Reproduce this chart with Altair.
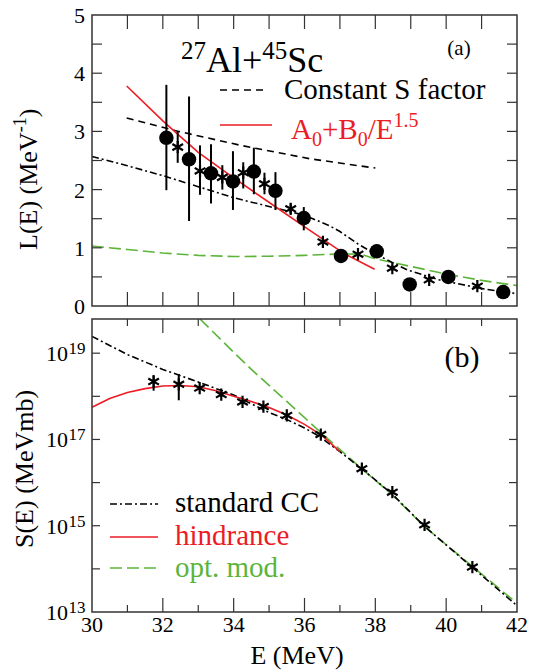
import altair as alt
import pandas as pd

FONT = "Liberation Serif"
RED = "#ec1c24"
GREEN = "#5cb53a"
BLACK = "#000000"
FRAME = "#333333"

# ---------------- panel (a): L(E) ----------------
a_circ_E = [32.10, 32.74, 33.36, 33.98, 34.57, 35.18, 35.98, 37.03, 38.04, 38.97, 40.06, 41.61]
a_circ_L = [2.89, 2.52, 2.28, 2.14, 2.31, 1.98, 1.51, 0.86, 0.94, 0.37, 0.50, 0.24]
a_circ_lo = [1.99, 1.46, 1.76, 1.65, 1.92, 1.65, 1.30, 0.80, 0.86, 0.31, 0.45, 0.21]
a_circ_hi = [3.80, 3.60, 2.78, 2.66, 2.72, 2.30, 1.70, 0.92, 1.06, 0.44, 0.56, 0.27]

a_star_E = [32.42, 33.05, 33.68, 34.27, 34.87, 35.61, 36.52, 37.51, 38.48, 39.52, 40.88]
a_star_L = [2.73, 2.32, 2.21, 2.29, 2.10, 1.67, 1.10, 0.89, 0.65, 0.45, 0.34]
a_star_lo = [2.46, 1.91, 2.00, 2.02, 1.92, 1.58, 1.02, 0.85, 0.61, 0.42, 0.32]
a_star_hi = [2.99, 2.76, 2.42, 2.47, 2.29, 1.76, 1.19, 0.94, 0.70, 0.49, 0.37]

a_constS_E = [30.98, 32.44, 34.2, 36.15, 38.0]
a_constS_L = [3.23, 3.00, 2.76, 2.53, 2.37]

a_cc_E = [30.0, 31.0, 32.0, 33.0, 34.0, 35.2, 36.0, 36.7, 37.0, 37.5, 37.95, 38.9, 39.8, 41.0, 42.0]
a_cc_L = [2.57, 2.41, 2.24, 2.05, 1.86, 1.68, 1.56, 1.38, 1.28, 1.07, 0.91, 0.62, 0.45, 0.30, 0.21]

a_fit_E = [30.98, 32.0, 32.44, 33.0, 34.0, 35.17, 36.15, 37.12, 37.98]
a_fit_L = [3.78, 3.18, 2.94, 2.64, 2.20, 1.71, 1.30, 0.90, 0.63]

a_opt_E = [30.0, 31.0, 32.0, 33.0, 34.0, 35.0, 36.0, 37.0, 37.6, 38.0, 39.0, 40.0, 41.0, 42.0]
a_opt_L = [1.03, 0.97, 0.91, 0.87, 0.85, 0.855, 0.87, 0.895, 0.89, 0.81, 0.68, 0.55, 0.44, 0.35]

a_xticks = [31, 32, 33, 34, 35, 36, 37, 38, 39, 40, 41]
a_yticks = [0.5, 1.0, 1.5, 2.0, 2.5, 3.0, 3.5, 4.0, 4.5]
a_ylabels = [0, 1, 2, 3, 4, 5]

# ---------------- panel (b): S(E) ----------------
b_star_E = [31.74, 32.45, 33.04, 33.65, 34.25, 34.84, 35.50, 36.46, 37.62, 38.48, 39.39, 40.74]
b_star_S = [2.2e18, 1.9e18, 1.55e18, 1.1e18, 7.4e17, 5.8e17, 3.6e17, 1.3e17, 2.1e16, 6.0e15, 1.05e15, 1.1e14]
b_star_lo = [1.35e18, 8.1e17, 1.4e18, 1.0e18, 6.8e17, 5.3e17, 3.3e17, 1.2e17, 1.9e16, 5.5e15, 9.6e14, 1.0e14]
b_star_hi = [3.1e18, 3.3e18, 1.7e18, 1.2e18, 8.1e17, 6.3e17, 3.9e17, 1.4e17, 2.3e16, 6.5e15, 1.15e15, 1.2e14]

b_cc_E = [30.0, 31.0, 32.0, 33.0, 34.0, 35.0, 35.5, 36.0, 36.4, 37.0, 37.63, 38.48, 39.37, 40.69, 42.0]
b_cc_S = [2.45e19, 9.3e18, 4.2e18, 2.15e18, 1.07e18, 4.2e17, 2.9e17, 1.85e17, 1.2e17, 5.2e16,
          2.05e16, 5.4e15, 1.0e15, 1.17e14, 1.4e13]

b_hind_E = [30.0, 30.5, 31.0, 31.5, 32.0, 32.5, 33.0, 33.5, 34.0, 34.5, 35.0, 35.5, 36.0, 36.5, 37.0]
b_hind_S = [5.6e17, 8.9e17, 1.23e18, 1.51e18, 1.74e18, 1.78e18, 1.66e18, 1.35e18, 1.0e18, 7.6e17,
            5.5e17, 3.7e17, 2.24e17, 1.23e17, 5.2e16]

b_opt_E = [33.05, 34.0, 34.5, 35.5, 36.46, 37.63, 38.48, 39.37, 40.69, 42.0]
b_opt_S = [6.2e19, 1.05e19, 4.2e18, 7.6e17, 1.45e17, 2.05e16, 5.2e15, 9.8e14, 1.23e14, 1.6e13]

b_xmajor = [32, 34, 36, 38, 40]
b_xminor = [31, 33, 35, 37, 39, 41]
b_xlabels = [30, 32, 34, 36, 38, 40, 42]
b_yticks = [1e14, 1e15, 1e16, 1e17, 1e18, 1e19]
b_ylabels = [1e13, 1e15, 1e17, 1e19]
b_yexp = ["13", "15", "17", "19"]

# ---------------- layout constants ----------------
W = 425
A_BOT = 291
B_TOP, B_BOT = 304, 597

xs = alt.Scale(domain=[30, 42], nice=False, zero=False)
ya = alt.Scale(domain=[0, 5], range=[A_BOT, 0], nice=False, zero=False)
yb = alt.Scale(type="log", domain=[1e13, 6.2e19], range=[B_BOT, B_TOP], nice=False)

STAR = "M0,-1L0,1M-0.87,-0.5L0.87,0.5M-0.87,0.5L0.87,-0.5"
DASHDOT = [7, 3, 2, 3]
DASH = [7, 5]
LDASH = [12, 5]

one = pd.DataFrame({"k": [0]})


def X(f):
    return alt.X(f, type="quantitative", scale=xs, axis=None)


def YA(f):
    return alt.Y(f, type="quantitative", scale=ya, axis=None)


def YB(f):
    return alt.Y(f, type="quantitative", scale=yb, axis=None)


def curve(E, V, yenc, color, dash=None):
    df = pd.DataFrame({"E": E, "V": V})
    kw = dict(color=color, strokeWidth=1.6)
    if dash is not None:
        kw["strokeDash"] = dash
    return alt.Chart(df).mark_line(**kw).encode(x=X("E"), y=yenc("V"))


def txt_mark(df, **kw):
    return alt.Chart(df).mark_text(font=FONT, **kw)


# ---------- panel (a) layers ----------
circ_a = pd.DataFrame({"E": a_circ_E, "L": a_circ_L, "lo": a_circ_lo, "hi": a_circ_hi})
star_a = pd.DataFrame({"E": a_star_E, "L": a_star_L, "lo": a_star_lo, "hi": a_star_hi})

top_layers = [
    curve(a_opt_E, a_opt_L, YA, GREEN, LDASH),
    curve(a_constS_E, a_constS_L, YA, BLACK, DASH),
    curve(a_cc_E, a_cc_L, YA, BLACK, DASHDOT),
    curve(a_fit_E, a_fit_L, YA, RED),
    alt.Chart(circ_a).mark_rule(color=BLACK, strokeWidth=2).encode(x=X("E"), y=YA("lo"), y2="hi"),
    alt.Chart(star_a).mark_rule(color=BLACK, strokeWidth=2).encode(x=X("E"), y=YA("lo"), y2="hi"),
    alt.Chart(circ_a).mark_circle(size=210, color=BLACK, opacity=1).encode(x=X("E"), y=YA("L")),
    alt.Chart(star_a).mark_point(shape=STAR, filled=False, size=150, strokeWidth=2.2,
                                 color=BLACK, opacity=1).encode(x=X("E"), y=YA("L")),
]

axt = pd.DataFrame({"t": a_xticks})
ayt = pd.DataFrame({"t": a_yticks})
ayl = pd.DataFrame({"t": a_ylabels, "lab": [str(v) for v in a_ylabels]})
top_layers += [
    alt.Chart(axt).mark_rule(color=FRAME, strokeWidth=1.2).encode(x=X("t"), y=alt.value(A_BOT), y2=alt.value(A_BOT - 14)),
    alt.Chart(axt).mark_rule(color=FRAME, strokeWidth=1.2).encode(x=X("t"), y=alt.value(0), y2=alt.value(14)),
    alt.Chart(ayt).mark_rule(color=FRAME, strokeWidth=1.2).encode(y=YA("t"), x=alt.value(0), x2=alt.value(10)),
    alt.Chart(ayt).mark_rule(color=FRAME, strokeWidth=1.2).encode(y=YA("t"), x=alt.value(W), x2=alt.value(W - 10)),
    txt_mark(ayl, fontSize=22, align="right", baseline="alphabetic", dy=8)
    .encode(y=YA("t"), x=alt.value(-7), text="lab:N"),
]
top_group = alt.layer(*top_layers)

# ---------- panel (b) layers ----------
star_b = pd.DataFrame({"E": b_star_E, "S": b_star_S, "lo": b_star_lo, "hi": b_star_hi})
bot_layers = [
    curve(b_opt_E, b_opt_S, YB, GREEN, LDASH),
    curve(b_cc_E, b_cc_S, YB, BLACK, DASHDOT),
    curve(b_hind_E, b_hind_S, YB, RED),
    alt.Chart(star_b).mark_rule(color=BLACK, strokeWidth=2).encode(x=X("E"), y=YB("lo"), y2="hi"),
    alt.Chart(star_b).mark_point(shape=STAR, filled=False, size=150, strokeWidth=2.2,
                                 color=BLACK, opacity=1).encode(x=X("E"), y=YB("S")),
]
bxM = pd.DataFrame({"t": b_xmajor})
bxm = pd.DataFrame({"t": b_xminor})
byt = pd.DataFrame({"t": b_yticks})
bxl = pd.DataFrame({"t": b_xlabels, "lab": [str(v) for v in b_xlabels]})
byl = pd.DataFrame({"t": b_ylabels, "exp": b_yexp})
bot_layers += [
    alt.Chart(bxM).mark_rule(color=FRAME, strokeWidth=1.2).encode(x=X("t"), y=alt.value(B_BOT), y2=alt.value(B_BOT - 14)),
    alt.Chart(bxM).mark_rule(color=FRAME, strokeWidth=1.2).encode(x=X("t"), y=alt.value(B_TOP), y2=alt.value(B_TOP + 14)),
    alt.Chart(bxm).mark_rule(color=FRAME, strokeWidth=1.2).encode(x=X("t"), y=alt.value(B_BOT), y2=alt.value(B_BOT - 7)),
    alt.Chart(bxm).mark_rule(color=FRAME, strokeWidth=1.2).encode(x=X("t"), y=alt.value(B_TOP), y2=alt.value(B_TOP + 7)),
    alt.Chart(byt).mark_rule(color=FRAME, strokeWidth=1.2).encode(y=YB("t"), x=alt.value(0), x2=alt.value(8)),
    alt.Chart(byt).mark_rule(color=FRAME, strokeWidth=1.2).encode(y=YB("t"), x=alt.value(W), x2=alt.value(W - 8)),
    txt_mark(bxl, fontSize=22, align="center", baseline="alphabetic")
    .encode(x=X("t"), y=alt.value(B_BOT + 20), text="lab:N"),
    txt_mark(byl, fontSize=22, align="right", baseline="alphabetic", dy=8)
    .encode(y=YB("t"), x=alt.value(-24), text=alt.value("10")),
    txt_mark(byl, fontSize=17, align="left", baseline="alphabetic", dy=1)
    .encode(y=YB("t"), x=alt.value(-23.5), text="exp:N"),
]
bot_group = alt.layer(*bot_layers)

# ---------- frames, legends, annotations ----------
WID = {"L": 611, "(": 333, ")": 333, "E": 611, " ": 250, "M": 889, "e": 444, "V": 722,
       "-": 333, "S": 556, "m": 778, "b": 500, "A": 722, "l": 278, "+": 564, "c": 444,
       "B": 667, "/": 278, ".": 250}


def tw(s, size):
    return sum(WID.get(c, 500) for c in s) * size / 1000.0


def label(txt, x, y, size, color=BLACK, align="left", baseline="alphabetic", angle=None):
    kw = dict(text=txt, fontSize=size, align=align, baseline=baseline)
    if color != BLACK:
        kw["color"] = color
    if angle is not None:
        kw["angle"] = angle
    return txt_mark(one, **kw).encode(x=alt.value(x), y=alt.value(y))


def rich(pieces, x0, y0, color, angle=None):
    out = []
    adv = 0.0
    for txt, size, shift in pieces:
        if angle is None:
            px, py = x0 + adv, y0 + shift
        else:
            px, py = x0 + shift, y0 - adv
        out.append(label(txt, px, py, size, color=color, angle=angle))
        adv += tw(txt, size)
    return out


def frame(y0, y1):
    return alt.Chart(one).mark_rect(fillOpacity=0, stroke=FRAME, strokeWidth=1.5).encode(
        x=alt.value(0), x2=alt.value(W), y=alt.value(y0), y2=alt.value(y1))


def sample(x0, x1, y, color, dash=None):
    kw = dict(color=color, strokeWidth=1.6)
    if dash is not None:
        kw["strokeDash"] = dash
    return alt.Chart(one).mark_rule(**kw).encode(x=alt.value(x0), x2=alt.value(x1), y=alt.value(y))


annot = [frame(0, A_BOT), frame(B_TOP, B_BOT)]
# panel (a)
annot += rich([("27", 25, -13), ("Al+", 36, 0), ("45", 25, -13), ("Sc", 36, 0)], 89, 57, BLACK)
annot += [label("(a)", 367, 40, 21, align="center")]
annot += [sample(128, 173, 75, BLACK, DASH), label("Constant S factor", 192, 84, 29)]
annot += [sample(128, 180, 110, RED)]
annot += rich([("A", 29, 0), ("0", 20, 7), ("+B", 29, 0), ("0", 20, 7), ("/E", 29, 0), ("1.5", 20, -12)],
              199, 124, RED)
annot += rich([("L(E) (MeV", 26, 0), ("-1", 18, -11), (")", 26, 0)], -55, 235, BLACK, angle=270)
# panel (b)
annot += [label("(b)", 370, 352, 30, align="center")]
annot += [sample(18, 66, 489, BLACK, DASHDOT), label("standard CC", 83, 497, 29)]
annot += [sample(18, 66, 522, RED), label("hindrance", 83, 530, 29, RED)]
annot += [sample(18, 66, 553, GREEN, LDASH), label("opt. mod.", 83, 562, 29, GREEN)]
annot += rich([("S(E) (MeVmb)", 26, 0)], -59, 533, BLACK, angle=270)
annot += [label("E (MeV)", 205, 649, 26, align="center")]

chart = (
    alt.layer(top_group, bot_group, *annot)
    .resolve_scale(y="independent")
    .properties(width=W, height=B_BOT,
                autosize=alt.AutoSizeParams(type="none"),
                padding={"left": 84, "top": 7, "right": 15, "bottom": 60},
                background="white")
    .configure_view(stroke=None)
)

chart.save("out.html", embed_options={"renderer": "svg", "actions": False})
